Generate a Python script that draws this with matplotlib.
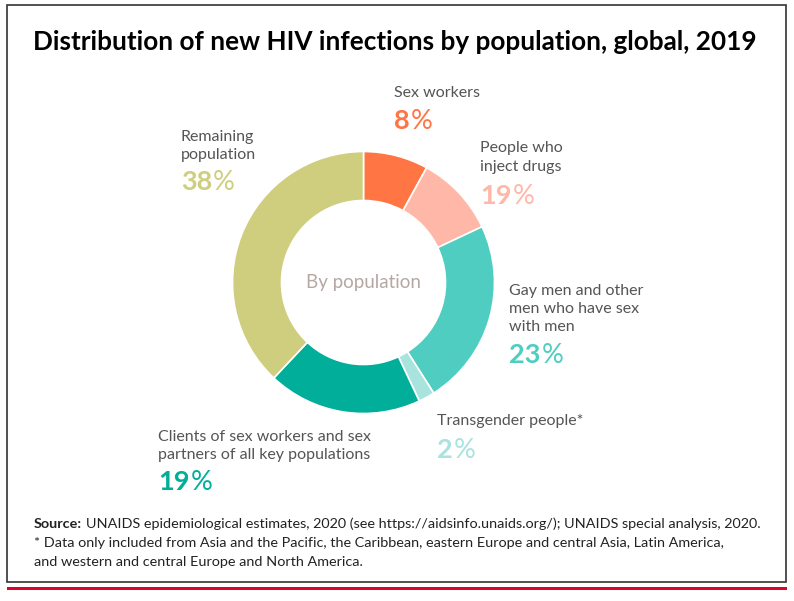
import matplotlib
matplotlib.use("Agg")
import matplotlib.pyplot as plt
from matplotlib.patches import Rectangle

# ---- data ----
categories = ["Sex workers", "People who inject drugs",
              "Gay men and other men who have sex with men",
              "Transgender people*",
              "Clients of sex workers and sex partners of all key populations",
              "Remaining population"]
slice_shares = [8, 10, 23, 2, 19, 38]      # wedge sizes as drawn
printed_pcts = [8, 19, 23, 2, 19, 38]      # percentages printed next to wedges
label_lines = [["Sex workers"],
               ["People who", "inject drugs"],
               ["Gay men and other", "men who have sex", "with men"],
               ["Transgender people*"],
               ["Clients of sex workers and sex", "partners of all key populations"],
               ["Remaining", "population"]]
colors = ["#FF7543", "#FFB8A8", "#4ECDC0", "#A9E3DD", "#00AE9A", "#CFCE7E"]

W, H = 794, 601
FONT = "Lato"
GREY = "#555555"

fig = plt.figure(figsize=(W / 100, H / 100), dpi=100)
fig.patch.set_facecolor("white")


def fx(x):
    return x / W


def fy(y):
    return 1 - y / H


# frame and red rule
fig.add_artist(Rectangle((fx(7), fy(582)), fx(786) - fx(7), fy(5) - fy(582),
                         transform=fig.transFigure, fill=False,
                         edgecolor="#333333", linewidth=1.2))
fig.add_artist(Rectangle((fx(7), fy(590)), fx(787) - fx(7), 3 / H,
                         transform=fig.transFigure, facecolor="#E0002A",
                         edgecolor="none"))

# title
fig.text(fx(395), fy(42), "Distribution of new HIV infections by population, global, 2019",
         ha="center", va="center", fontsize=18.8, fontweight="bold",
         family=FONT, color="black")

# donut
cx, cy, r = 363.5, 282.5, 131
ax = fig.add_axes([fx(cx - r), fy(cy + r), 2 * r / W, 2 * r / H])
ax.pie(slice_shares, colors=colors, startangle=90, counterclock=False,
       radius=1, wedgeprops=dict(width=0.374, edgecolor="white", linewidth=1.2))
ax.set_xlim(-1, 1)
ax.set_ylim(-1, 1)
ax.set_aspect("equal")
ax.axis("off")
ax.text(0, 0, "By population", ha="center", va="center", fontsize=13.5,
        family=FONT, color="#B5A7A3")

# label positions: left x, first-line baseline, line step, pct baseline
label_pos = [(394, 97, 18, 129),
             (480, 152, 18.5, 204),
             (509, 295, 18, 363),
             (437, 425, 18, 458),
             (158, 441, 18, 490),
             (181, 141, 17.5, 190)]

fig.canvas.draw()
renderer = fig.canvas.get_renderer()

for lines, pct, col, (x0, y0, step, yp) in zip(label_lines, printed_pcts, colors, label_pos):
    for i, line in enumerate(lines):
        fig.text(fx(x0), fy(y0 + i * step), line, ha="left", va="baseline",
                 fontsize=11.5, family=FONT, color=GREY)
    num = fig.text(fx(x0), fy(yp), str(pct), ha="left", va="baseline",
                   fontsize=19.5, fontweight="bold", family=FONT, color=col)
    bb = num.get_window_extent(renderer=renderer)
    fig.text(bb.x1 / W + 1 / W, fy(yp), "%", ha="left", va="baseline",
             fontsize=19.5, fontweight="normal", family=FONT, color=col)

# footer
FS = 10.4
src = fig.text(fx(34), fy(528), "Source:", ha="left", va="baseline",
               fontsize=FS, fontweight="bold", family=FONT, color="#222222")
bb = src.get_window_extent(renderer=renderer)
fig.text(bb.x1 / W + 4 / W, fy(528),
         "UNAIDS epidemiological estimates, 2020 (see https://aidsinfo.unaids.org/); UNAIDS special analysis, 2020.",
         ha="left", va="baseline", fontsize=FS, family=FONT, color="#222222")
fig.text(fx(34), fy(547),
         "* Data only included from Asia and the Pacific, the Caribbean, eastern Europe and central Asia, Latin America,",
         ha="left", va="baseline", fontsize=FS, family=FONT, color="#222222")
fig.text(fx(34), fy(566),
         "and western and central Europe and North America.",
         ha="left", va="baseline", fontsize=FS, family=FONT, color="#222222")

fig.savefig("out.png", dpi=100, facecolor="white")
